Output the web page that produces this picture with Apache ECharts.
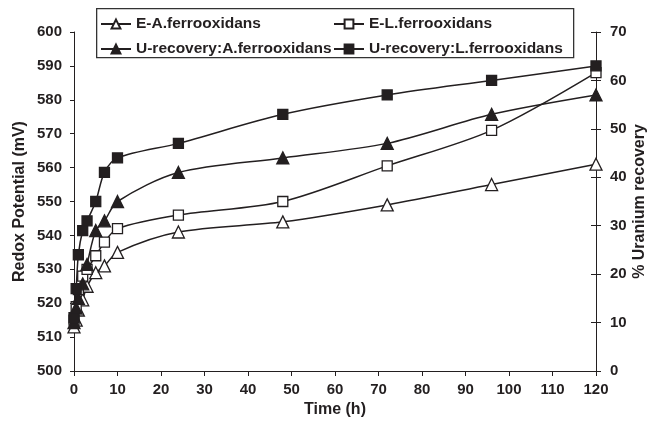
<!DOCTYPE html>
<html><head><meta charset="utf-8">
<script src="https://cdn.jsdelivr.net/npm/echarts@6/dist/echarts.min.js"></script>
<style>html,body{margin:0;padding:0;background:#fff}#c{width:652px;height:425px}</style>
</head><body><div id="c"></div>
<script>
var times = [0, 0.5, 1, 2, 3, 5, 7, 10, 24, 48, 72, 96, 120];
var eA = [513, 515, 518, 521, 525, 529, 531, 535, 541, 544, 549, 555, 561];
var eL = [515, 519, 524, 528, 530, 534, 538, 542, 546, 550, 560.5, 571, 588];
var uA = [10, 13, 15, 18, 22, 29, 31, 35, 41, 44, 47, 53, 57];
var uL = [11, 17, 24, 29, 31, 35, 41, 44, 47, 53, 57, 60, 63];
var names = ['E-A.ferrooxidans', 'E-L.ferrooxidans', 'U-recovery:A.ferrooxidans', 'U-recovery:L.ferrooxidans'];

var C = '#231f20';
var font = 'Liberation Sans, Arial, sans-serif';
function pairs(v){ return times.map(function(t,i){ return [t, v[i]]; }); }
function mk(name, vals, yIdx, symbol, filled){
  return {
    name: name, type: 'line', yAxisIndex: yIdx, data: pairs(vals),
    smooth: 0.3, symbol: symbol, symbolSize: symbol === 'rect' ? 10 : 12,
    showAllSymbol: true,
    lineStyle: {color: C, width: 1.5},
    itemStyle: {color: filled ? C : '#fff', borderColor: C, borderWidth: 1.3},
    emphasis: {disabled: true}
  };
}
var chart = echarts.init(document.getElementById('c'));
var tickStyle = {color: C, fontFamily: font, fontWeight: 'bold', fontSize: 15};
var nameStyle = {color: C, fontFamily: font, fontWeight: 'bold', fontSize: 16};
var legText = {color: C, fontFamily: font, fontWeight: 'bold', fontSize: 15.5};
chart.setOption({
  animation: false,
  grid: {left: 74, right: 56, top: 32, bottom: 54, containLabel: false, outerBoundsMode: 'none'},
  xAxis: {
    type: 'value', min: 0, max: 120, interval: 10,
    name: 'Time (h)', nameLocation: 'middle', nameGap: 30,
    nameTextStyle: nameStyle,
    axisLine: {lineStyle: {color: C, width: 1}},
    axisTick: {length: 5, lineStyle: {color: C}},
    axisLabel: Object.assign({margin: 11}, tickStyle),
    splitLine: {show: false}
  },
  yAxis: [{
    type: 'value', min: 500, max: 600, interval: 10,
    name: 'Redox Potential (mV)', nameLocation: 'middle', nameGap: 46,
    nameMoveOverlap: false,
    nameTextStyle: nameStyle,
    axisLine: {show: true, lineStyle: {color: C}},
    axisTick: {show: true, length: 4, lineStyle: {color: C}},
    axisLabel: Object.assign({margin: 12}, tickStyle),
    splitLine: {show: false}
  }, {
    type: 'value', min: 0, max: 70, interval: 10, position: 'right',
    name: '% Uranium recovery', nameLocation: 'middle', nameGap: 36,
    nameRotate: 90, nameMoveOverlap: false,
    nameTextStyle: nameStyle,
    axisLine: {show: true, lineStyle: {color: C}},
    axisTick: {show: true, length: 5, lineStyle: {color: C}},
    axisLabel: Object.assign({margin: 14}, tickStyle),
    splitLine: {show: false}
  }, {
    type: 'value', min: 0, max: 70, interval: 10, position: 'right',
    axisLine: {show: false},
    axisTick: {show: true, inside: true, length: 5, lineStyle: {color: C}},
    axisLabel: {show: false},
    splitLine: {show: false}
  }],
  legend: [{
    left: 95, top: 11, orient: 'vertical', itemGap: 9,
    itemWidth: 30, itemHeight: 11,
    data: [names[0], names[2]],
    textStyle: legText,
    z: 5
  }, {
    left: 328, top: 11, orient: 'vertical', itemGap: 9,
    itemWidth: 30, itemHeight: 11,
    data: [names[1], names[3]],
    textStyle: legText,
    z: 5
  }],
  graphic: [{
    type: 'rect', z: 4, left: 96, top: 8,
    shape: {width: 477, height: 49},
    style: {fill: '#fff', stroke: '#333', lineWidth: 1.3}
  }],
  series: [
    mk(names[0], eA, 0, 'triangle', false),
    mk(names[1], eL, 0, 'rect', false),
    mk(names[2], uA, 1, 'triangle', true),
    mk(names[3], uL, 1, 'rect', true)
  ]
});
</script></body></html>
